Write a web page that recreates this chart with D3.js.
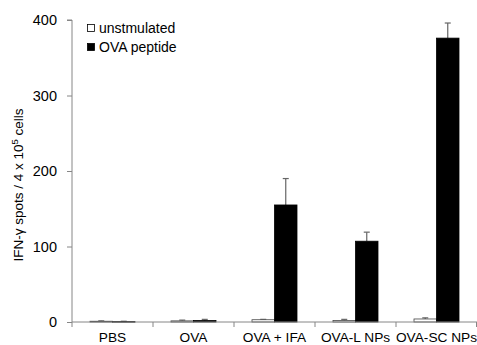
<!DOCTYPE html>
<html>
<head>
<meta charset="utf-8">
<script src="https://cdn.jsdelivr.net/npm/d3@7/dist/d3.min.js"></script>
<style>
  body { margin: 0; background: #fff; }
  svg { display: block; font-family: "Liberation Sans", Arial, sans-serif; }
</style>
</head>
<body>
<svg id="chart" width="477" height="345"></svg>
<script>
// ---------- Данные ----------
const groups = ['PBS', 'OVA', 'OVA + IFA', 'OVA-L NPs', 'OVA-SC NPs'];
const seriesNames = ['unstmulated', 'OVA peptide'];
const unstimValues = [1, 1.5, 3, 2, 4];
const unstimErrors = [0.5, 1, 0.5, 1.5, 1.5];
const peptideValues = [0.5, 2, 155, 107, 376];
const peptideErrors = [0.5, 1.5, 35, 12, 20];
const yTicks = [0, 100, 200, 300, 400];

const svg = d3.select('#chart');
const margin = { top: 20, right: 0, bottom: 23, left: 72 };
const width = 477 - margin.left - margin.right;
const height = 345 - margin.top - margin.bottom;
const axisColor = '#868686';
const errColor = '#666';

const x = d3.scaleBand().domain(groups).range([0, width]).padding(0);
const sub = d3.scaleBand().domain(seriesNames).range([18, 63]);
const y = d3.scaleLinear().domain([0, 400]).range([height, 0]);

const g = svg.append('g').attr('transform', `translate(${margin.left},${margin.top})`);

const rows = groups.map((grp, i) => [
    { grp, s: seriesNames[0], v: unstimValues[i], e: unstimErrors[i] },
    { grp, s: seriesNames[1], v: peptideValues[i], e: peptideErrors[i] }
]).flat();

// усы погрешности (только вверх)
const err = g.append('g').selectAll('g').data(rows).join('g')
    .attr('transform', d => `translate(${x(d.grp) + sub(d.s) + sub.bandwidth() / 2},0)`);
err.append('line')
    .attr('y1', d => y(d.v)).attr('y2', d => y(d.v + d.e))
    .attr('stroke', errColor).attr('stroke-width', 1.2);
err.append('line')
    .attr('x1', -3).attr('x2', 3)
    .attr('y1', d => y(d.v + d.e)).attr('y2', d => y(d.v + d.e))
    .attr('stroke', errColor).attr('stroke-width', 1.2);

// столбцы
g.append('g').selectAll('rect').data(rows).join('rect')
    .attr('x', d => x(d.grp) + sub(d.s))
    .attr('width', sub.bandwidth())
    .attr('y', d => y(d.v))
    .attr('height', d => Math.max(0.5, y(0) - y(d.v)))
    .attr('fill', d => d.s === seriesNames[1] ? '#000' : '#fff')
    .attr('stroke', d => d.s === seriesNames[1] ? '#000' : '#444')
    .attr('stroke-width', 0.8);

// ось Y
const yAxis = g.append('g')
    .call(d3.axisLeft(y).tickValues(yTicks).tickSize(5).tickPadding(10))
    .attr('font-size', 14.5).attr('font-family', '"Liberation Sans", Arial, sans-serif');
yAxis.selectAll('line, path').attr('stroke', axisColor);
yAxis.select('.domain').attr('d', `M-5,${y(400)}H0V${y(0)}`);
yAxis.selectAll('text').attr('fill', '#000');

// ось X
const xAxis = g.append('g').attr('transform', `translate(0,${height})`);
xAxis.append('line').attr('x1', 0).attr('x2', width).attr('stroke', axisColor);
xAxis.selectAll('.tk').data(d3.range(groups.length + 1)).join('line')
    .attr('x1', i => Math.min(i * x.step(), width - 0.5)).attr('x2', i => Math.min(i * x.step(), width - 0.5))
    .attr('y1', 0).attr('y2', 5).attr('stroke', axisColor);
xAxis.selectAll('text').data(groups).join('text')
    .attr('x', d => x(d) + x.bandwidth() / 2).attr('y', 20)
    .attr('text-anchor', 'middle').attr('font-size', 13.7).text(d => d);

// подпись оси Y
const yl = svg.append('text')
    .attr('transform', `translate(23,185) rotate(-90)`)
    .attr('text-anchor', 'middle').attr('font-size', 13.5);
yl.append('tspan').text('IFN-γ spots / 4 x 10');
yl.append('tspan').attr('font-size', 9.5).attr('dy', -5).text('5');
yl.append('tspan').attr('dy', 5).text(' cells');

// легенда
const leg = svg.append('g').attr('transform', 'translate(87,21)');
seriesNames.forEach((s, i) => {
    const row = leg.append('g').attr('transform', `translate(0,${i * 19})`);
    row.append('rect').attr('x', 0.5).attr('y', 3.5).attr('width', 7).attr('height', 7)
        .attr('fill', i ? '#000' : '#fff').attr('stroke', '#000').attr('stroke-width', 0.8);
    row.append('text').attr('x', 12).attr('y', 12).attr('font-size', 14).text(s);
});
</script>
</body>
</html>
